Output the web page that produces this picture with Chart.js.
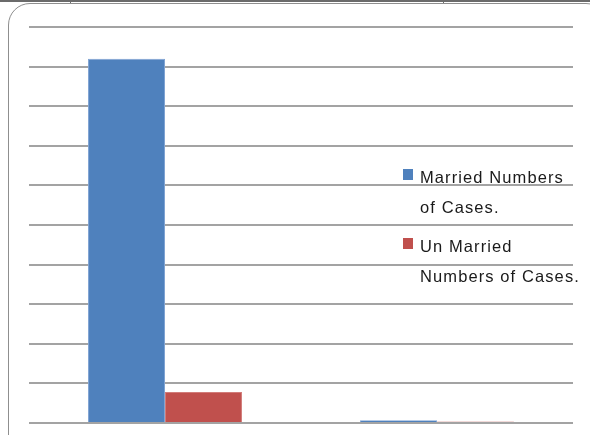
<!DOCTYPE html>
<html>
<head>
<meta charset="utf-8">
<script src="https://cdn.jsdelivr.net/npm/chart.js@4"></script>
<style>
  html, body { margin: 0; padding: 0; background: #fff; }
  #wrap { position: relative; width: 590px; height: 435px; overflow: hidden; }
  #topline { position: absolute; left: 0; top: 0; width: 590px; height: 2px; background: #6b6b6b; }
  .tick { position: absolute; top: 0; width: 1px; height: 3px; background: #6b6b6b; }
  #frame { position: absolute; left: 8px; top: 3px; width: 600px; height: 480px;
           border: 1.5px solid #8f8f8f; border-radius: 22px; box-sizing: border-box; }
  canvas { position: absolute; left: 0; top: 0; }
  .entry { position: absolute; left: 403px; font-family: "Liberation Sans", Arial, sans-serif;
           font-size: 16.5px; line-height: 30px; color: #1a1a1a; letter-spacing: 1.1px; }
  .entry .sw { position: absolute; left: 0; top: 7px; width: 10px; height: 11px; }
  .entry .txt { margin-left: 17px; white-space: nowrap; }
</style>
</head>
<body>
<div id="wrap">
  <div id="topline"></div>
  <div class="tick" style="left:70px"></div>
  <div class="tick" style="left:443px"></div>
  <div id="frame"></div>
  <canvas id="barChart" width="590" height="435"></canvas>
  <div id="legend"></div>
</div>
<script>
// data (axis has no labels, so arbitrary units 0..10)
const categories = ['Group 1', 'Group 2'];
const seriesNames = ['Married Numbers of Cases.', 'Un Married Numbers of Cases.'];
const legendLines = [['Married Numbers', 'of Cases.'], ['Un Married', 'Numbers of Cases.']];
const married = [9.2, 0.07];
const unmarried = [0.78, 0.04];
const yMax = 10;
const colors = ['#4F81BD', '#C0504D'];

function buildLegend() {
  const legend = document.getElementById('legend');
  const tops = [162, 231];
  legendLines.forEach((lines, i) => {
    const d = document.createElement('div');
    d.className = 'entry';
    d.style.top = tops[i] + 'px';
    d.innerHTML = '<span class="sw" style="background:' + colors[i] + '"></span>' +
      '<div class="txt">' + lines.join('<br>') + '</div>';
    legend.appendChild(d);
  });
}

function createBarChart() {
  const ctx = document.getElementById('barChart').getContext('2d');
  new Chart(ctx, {
    type: 'bar',
    data: {
      labels: categories,
      datasets: [
        { label: seriesNames[0], data: married, backgroundColor: colors[0],
          borderColor: '#7fa3d3', borderWidth: 1 },
        { label: seriesNames[1], data: unmarried, backgroundColor: colors[1],
          borderColor: '#d27c79', borderWidth: 1 }
      ]
    },
    options: {
      responsive: false,
      animation: false,
      layout: { padding: { left: 29, right: 17, top: 27, bottom: 12 } },
      categoryPercentage: 0.566,
      barPercentage: 1,
      plugins: { legend: { display: false }, tooltip: { enabled: false } },
      scales: {
        x: {
          grid: { display: false, drawTicks: false },
          border: { display: false },
          ticks: { display: false }
        },
        y: {
          min: 0, max: yMax,
          grid: { color: '#a3a3a3', lineWidth: 2, drawTicks: false },
          border: { display: false },
          ticks: { display: false, stepSize: 1 }
        }
      }
    }
  });
}

buildLegend();
createBarChart();
</script>
</body>
</html>
